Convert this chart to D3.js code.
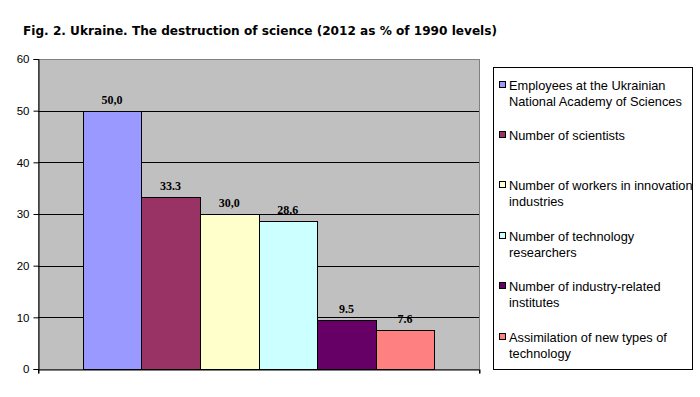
<!DOCTYPE html>
<html>
<head>
<meta charset="utf-8">
<script src="https://cdn.jsdelivr.net/npm/d3@7"></script>
<style>
  body { margin: 0; background: #fff; }
</style>
</head>
<body>
<script>
"use strict";

const seriesNames = [
  ["Employees at the Ukrainian", "National Academy of Sciences"],
  ["Number of scientists"],
  ["Number of workers in innovation", "industries"],
  ["Number of technology", "researchers"],
  ["Number of industry-related", "institutes"],
  ["Assimilation of new types of", "technology"]
];
const values = [50.0, 33.3, 30.0, 28.6, 9.5, 7.6];
const valueLabels = ["50,0", "33.3", "30,0", "28.6", "9.5", "7.6"];
const colors = ["#9999FF", "#993366", "#FFFFCC", "#CCFFFF", "#660066", "#FF8080"];
const yTicks = [0, 10, 20, 30, 40, 50, 60];

const m = { width: 700, height: 397 };
const plot = { left: 38, right: 479, top: 59, bottom: 369 };
const sans = "'Liberation Sans', Arial, sans-serif";

const svg = d3.select("body")
  .append("svg")
  .attr("width", m.width)
  .attr("height", m.height);

// title
svg.append("text")
  .attr("x", 23)
  .attr("y", 35)
  .attr("font-weight", "bold")
  .attr("font-size", 12)
  .attr("fill", "#000")
  .attr("textLength", 474)
  .attr("lengthAdjust", "spacingAndGlyphs")
  .style("font-family", "'DejaVu Sans', Verdana, sans-serif")
  .text("Fig. 2. Ukraine. The destruction of science (2012 as % of 1990 levels)");

const y = d3.scaleLinear()
  .domain([0, 60])
  .range([plot.bottom, plot.top]);

const x = d3.scaleBand()
  .domain(d3.range(values.length))
  .range([plot.left, plot.right])
  .paddingInner(0)
  .paddingOuter(0.763);

// plot area
svg.append("rect")
  .attr("x", plot.left + 0.5)
  .attr("y", plot.top + 0.5)
  .attr("width", plot.right - plot.left)
  .attr("height", plot.bottom - plot.top)
  .attr("fill", "#C0C0C0")
  .attr("stroke", "#808080");

// gridlines
svg.append("g")
  .selectAll("line")
  .data(yTicks.filter(d => d > 0 && d < 60))
  .enter()
  .append("line")
  .attr("x1", plot.left)
  .attr("x2", plot.right)
  .attr("y1", d => Math.round(y(d)) + 0.5)
  .attr("y2", d => Math.round(y(d)) + 0.5)
  .attr("stroke", "#000");

// bars
svg.append("g")
  .selectAll("rect")
  .data(values)
  .enter()
  .append("rect")
  .attr("x", (d, i) => Math.round(x(i)) + 0.5)
  .attr("y", d => Math.round(y(d)) + 0.5)
  .attr("width", (d, i) => Math.round(x(i) + x.bandwidth()) - Math.round(x(i)))
  .attr("height", d => Math.round(y(0)) - Math.round(y(d)))
  .attr("fill", (d, i) => colors[i])
  .attr("stroke", "#000");

// value labels
svg.append("g")
  .selectAll("text")
  .data(values)
  .enter()
  .append("text")
  .attr("x", (d, i) => x(i) + x.bandwidth() / 2)
  .attr("y", d => y(d) - 7)
  .attr("text-anchor", "middle")
  .attr("font-weight", "bold")
  .attr("font-size", 12)
  .attr("fill", "#000")
  .style("font-family", "'Liberation Serif', 'Times New Roman', serif")
  .text((d, i) => valueLabels[i]);

// y axis
const yAxis = svg.append("g")
  .attr("transform", `translate(${plot.left + 0.5},0)`)
  .call(d3.axisLeft(y).tickValues(yTicks).tickSize(5).tickPadding(4));
yAxis.select(".domain").attr("stroke", "#000");
yAxis.selectAll("text")
  .attr("font-size", 11.5)
  .attr("fill", "#000")
  .style("font-family", sans);

// x axis: single category, ticks at both edges
const xAxis = d3.scalePoint().domain(["a", "b"]).range([plot.left, plot.right]);
const xg = svg.append("g")
  .attr("transform", `translate(0,${Math.round(y(0)) + 0.5})`)
  .call(d3.axisBottom(xAxis).tickSize(4).tickFormat(""));
xg.select(".domain").attr("stroke", "#000");
xg.selectAll(".tick line").attr("transform", "translate(0.5,0)");

// legend
const legend = svg.append("g");
legend.append("rect")
  .attr("x", 493.5)
  .attr("y", 67.5)
  .attr("width", 199)
  .attr("height", 302)
  .attr("fill", "#fff")
  .attr("stroke", "#000");

const rowY = d3.scaleLinear().domain([0, 5]).range([84.5, 336.5]);

const items = legend.selectAll("g.item")
  .data(seriesNames)
  .enter()
  .append("g")
  .attr("class", "item")
  .attr("transform", (d, i) => `translate(0,${Math.round(rowY(i))})`);

items.append("rect")
  .attr("x", 499.5)
  .attr("y", -3.5)
  .attr("width", 6)
  .attr("height", 6)
  .attr("fill", (d, i) => colors[i])
  .attr("stroke", "#000");

items.each(function(lines) {
  const t = d3.select(this).append("text")
    .attr("x", 509)
    .attr("y", 4.5)
    .attr("font-size", 12.8)
    .attr("fill", "#000")
    .style("font-family", sans);
  lines.forEach((line, k) => {
    t.append("tspan")
      .attr("x", 509)
      .attr("dy", k === 0 ? 0 : 16.4)
      .text(line);
  });
});
</script>
</body>
</html>
